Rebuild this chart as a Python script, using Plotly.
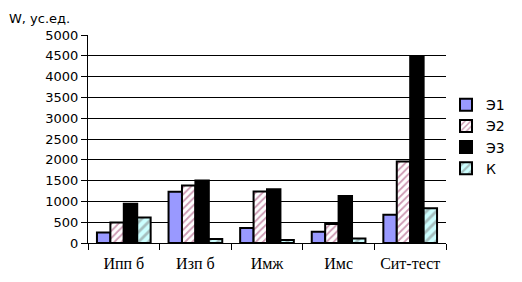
import plotly.graph_objects as go

categories = ["Ипп б", "Изп б", "Имж", "Имс", "Сит-тест"]
e1 = [250, 1230, 360, 270, 680]
e2 = [490, 1380, 1235, 455, 1960]
e3 = [945, 1500, 1290, 1130, 4480]
k = [610, 95, 70, 110, 835]
y_ticks = [0, 500, 1000, 1500, 2000, 2500, 3000, 3500, 4000, 4500, 5000]

fig = go.Figure()
line = dict(color="black", width=2)
fig.add_bar(name="Э1", x=categories, y=e1, marker=dict(color="#9999FF", line=line))
fig.add_bar(name="Э2", x=categories, y=e2,
            marker=dict(color="white", line=line,
                        pattern=dict(shape="/", fgcolor="#993366", bgcolor="white", size=5, solidity=0.35)))
fig.add_bar(name="Э3", x=categories, y=e3, marker=dict(color="black", line=line))
fig.add_bar(name="К", x=categories, y=k,
            marker=dict(color="#CCFFFF", line=line,
                        pattern=dict(shape="/", fgcolor="#808080", bgcolor="#CCFFFF", size=7, solidity=0.4)))

fig.update_layout(
    width=522, height=282,
    margin=dict(l=88, r=62, t=35, b=39),
    paper_bgcolor="white", plot_bgcolor="white",
    barmode="group", bargap=0.25, bargroupgap=0,
    showlegend=True,
    legend=dict(x=1.0, y=0.74, xanchor="left", yanchor="top",
                font=dict(family="DejaVu Sans", size=14, color="black"),
                itemwidth=30, tracegroupgap=0, bgcolor="rgba(0,0,0,0)"),
    font=dict(family="DejaVu Sans", color="black"),
)
fig.update_xaxes(showline=True, linecolor="black", linewidth=1, ticks="outside",
                 tickson="boundaries", ticklen=6, tickcolor="black",
                 ticklabelstandoff=6, automargin=False,
                 tickfont=dict(family="Liberation Serif", size=16, color="black"),
                 showgrid=False)
fig.update_yaxes(range=[0, 5000], tickvals=y_ticks, showline=True, linecolor="black",
                 linewidth=1, ticks="outside", ticklen=6, tickcolor="black",
                 showgrid=True, gridcolor="black", gridwidth=1, automargin=False,
                 tickfont=dict(family="DejaVu Sans", size=13, color="black"))
fig.add_annotation(text="W, ус.ед.", xref="paper", yref="paper", x=-0.225, y=1.08,
                   xanchor="left", yanchor="middle", showarrow=False,
                   font=dict(family="DejaVu Sans", size=13, color="black"))
fig.write_html("out.html")
